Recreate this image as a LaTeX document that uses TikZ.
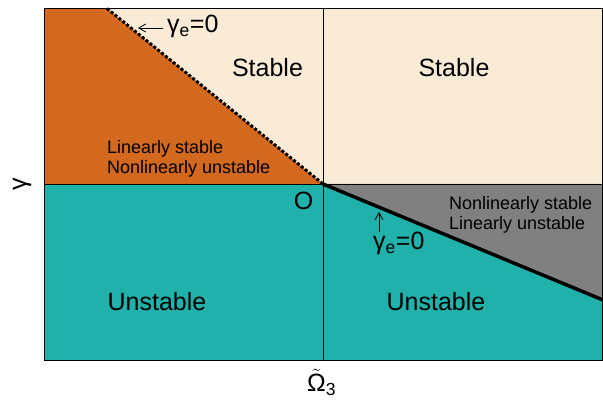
\documentclass[tikz,border=0pt]{standalone}
\usepackage{fontspec}
\setmainfont{Liberation Sans}
\usetikzlibrary{arrows.meta}
\definecolor{stabcol}{HTML}{FAEBD7}
\definecolor{linstabcol}{HTML}{D2691E}
\definecolor{unstabcol}{HTML}{20B2AA}
\definecolor{nlstabcol}{HTML}{808080}
\newcommand{\bigfont}{\fontsize{25}{30}\selectfont}
\newcommand{\smallfont}{\fontsize{18}{19.5}\selectfont}
\begin{document}
\begin{tikzpicture}[x=1pt,y=-1pt,
    every node/.style={font=\bigfont,inner sep=0pt},
    region/.style={font=\smallfont,align=left,anchor=west},
    >={Straight Barb[length=7pt,width=8pt]}]
    \useasboundingbox (0,0) rectangle (603,403);
    % regions
    \fill[stabcol] (44,8.5) rectangle (603,184);
    \fill[linstabcol] (44,8.5) -- (107,8.5) -- (323,184) -- (44,184) -- cycle;
    \fill[unstabcol] (44,184) rectangle (603,361);
    \fill[nlstabcol] (323,184) -- (603,184) -- (603,300) -- cycle;
    % axes through O
    \draw (323,8.5) -- (323,361);
    \draw (44,184) -- (603,184);
    % gamma_e = 0 boundaries
    \draw[line width=3pt,dash pattern=on 3pt off 2pt] (107,8.5) -- (323,184);
    \draw[line width=3.5pt] (323,184) -- (603,300);
    \draw[line width=1pt] (44,8.5) rectangle (602.5,361);
    % labels
    \node[anchor=base] (stab1) at (267.5,77) {Stable};
    \node[anchor=base] (stab2) at (454,77) {Stable};
    \node[anchor=base] (unstab1) at (157,311) {Unstable};
    \node[anchor=base] (unstab2) at (436,311) {Unstable};
    \node[region] (lin) at (107,159) {Linearly stable\\Nonlinearly unstable};
    \node[region] (nonlin) at (449,215) {Nonlinearly stable\\Linearly unstable};
    \node (orig) at (303.5,200.5) {O};
    \node[anchor=base west] (ge1) at (167,33) {γ\textsubscript{e}=0};
    \coordinate (ge1tip) at (138,28);
    \draw[->,line width=0.8pt] ([xshift=-4pt]ge1.west |- ge1tip) -- (ge1tip);
    \node[anchor=base west] (ge2) at (373,250) {γ\textsubscript{e}=0};
    \coordinate (ge2tip) at (379,212);
    \draw[->,line width=0.8pt] (ge2tip |- ge2.north) -- (ge2tip);
    % axis titles
    \node[anchor=base west] (xlab) at (307,392) {$\tilde{\mbox{Ω}}$\textsubscript{3}};
    \node[rotate=90] (ylab) at (22,184) {γ};
\end{tikzpicture}
\end{document}
